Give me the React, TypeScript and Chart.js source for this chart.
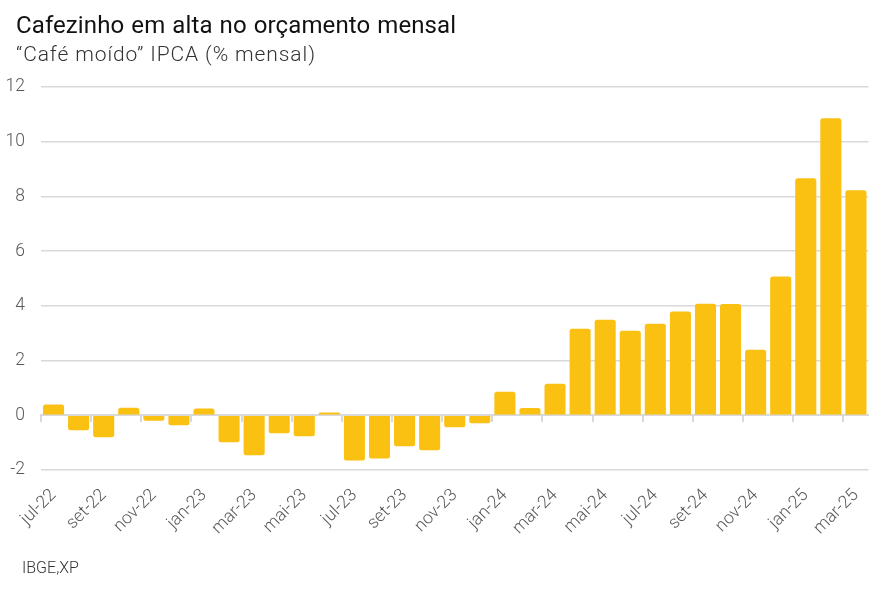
import React, { useEffect, useRef } from 'react';
import { Chart, registerables } from 'chart.js';

Chart.register(...registerables);

const categories: string[] = [
  'jul-22', 'ago-22', 'set-22', 'out-22', 'nov-22', 'dez-22',
  'jan-23', 'fev-23', 'mar-23', 'abr-23', 'mai-23', 'jun-23',
  'jul-23', 'ago-23', 'set-23', 'out-23', 'nov-23', 'dez-23',
  'jan-24', 'fev-24', 'mar-24', 'abr-24', 'mai-24', 'jun-24',
  'jul-24', 'ago-24', 'set-24', 'out-24', 'nov-24', 'dez-24',
  'jan-25', 'fev-25', 'mar-25',
];

const values: number[] = [
  0.39, -0.55, -0.8, 0.28, -0.2, -0.36,
  0.25, -0.99, -1.46, -0.66, -0.77, 0.1,
  -1.65, -1.58, -1.13, -1.28, -0.44, -0.29,
  0.86, 0.27, 1.15, 3.16, 3.49, 3.09,
  3.35, 3.79, 4.08, 4.07, 2.4, 5.07,
  8.66, 10.86, 8.23,
];

const yMin = -2;
const yMax = 12;
const yStep = 2;

const titleText = 'Cafezinho em alta no orçamento mensal';
const subtitleText = '“Café moído” IPCA (% mensal)';
const sourceText = 'IBGE,XP';

const GRID = '#d9d9d9';
const TICK = '#595959';

export default function App() {
  const canvasRef = useRef<HTMLCanvasElement | null>(null);

  useEffect(() => {
    if (!canvasRef.current) return;
    const chart = new Chart(canvasRef.current, {
      type: 'bar',
      data: {
        labels: categories,
        datasets: [
          {
            data: values,
            backgroundColor: '#FAC012',
            borderWidth: 0,
            borderRadius: 2.5,
            categoryPercentage: 1,
            barPercentage: 0.84,
          },
        ],
      },
      options: {
        animation: false,
        responsive: true,
        maintainAspectRatio: false,
        layout: { padding: { top: 87, right: 15, bottom: 52, left: 0 } },
        plugins: {
          legend: { display: false },
          tooltip: { enabled: false },
          title: { display: false },
        },
        scales: {
          x: {
            type: 'category',
            position: 'bottom',
            offset: true,
            grid: { display: false, drawTicks: false },
            border: { display: false },
            ticks: {
              autoSkip: false,
              maxRotation: 45,
              minRotation: 45,
              padding: 15,
              color: TICK,
              font: { family: 'Roboto', size: 17.5, weight: 300 },
              callback: (_v: any, i: number) => (i % 2 === 0 ? categories[i] : ''),
            },
            afterFit: (s: any) => {
              s.height = 70;
            },
          },
          x0: {
            type: 'category',
            axis: 'x',
            position: { y: 0 },
            offset: true,
            labels: categories,
            grid: {
              offset: true,
              drawOnChartArea: false,
              drawTicks: true,
              tickLength: 6,
              lineWidth: 2,
              color: (ctx: any) => (ctx.index % 2 === 0 ? GRID : 'rgba(0,0,0,0)'),
            },
            border: { display: true, color: GRID, width: 2 },
            ticks: { display: false },
          },
          y: {
            min: yMin,
            max: yMax,
            grid: { color: GRID, lineWidth: 1.6, drawTicks: false },
            border: { display: false },
            ticks: {
              stepSize: yStep,
              padding: 16,
              color: TICK,
              font: { family: 'Roboto', size: 17.5, weight: 300 },
            },
            afterFit: (s: any) => {
              s.width = 41;
            },
          },
        },
      },
    });
    return () => chart.destroy();
  }, []);

  return (
    <div
      style={{
        position: 'absolute',
        left: 0,
        top: 0,
        width: 886,
        height: 592,
        background: '#fff',
        fontFamily: 'Roboto, sans-serif',
        overflow: 'hidden',
      }}
    >
      <div style={{ position: 'absolute', left: 0, top: 0, width: 886, height: 592 }}>
        <canvas ref={canvasRef} />
      </div>
      <div
        style={{
          position: 'absolute',
          left: 16,
          top: 11,
          fontSize: 24,
          fontWeight: 400,
          letterSpacing: '0.1px',
          wordSpacing: '1px',
          color: '#111',
          whiteSpace: 'nowrap',
        }}
      >
        {titleText}
      </div>
      <div
        style={{
          position: 'absolute',
          left: 16,
          top: 42,
          fontSize: 21,
          fontWeight: 300,
          letterSpacing: '0.9px',
          color: '#333',
          whiteSpace: 'nowrap',
        }}
      >
        {subtitleText}
      </div>
      <div
        style={{
          position: 'absolute',
          left: 22,
          top: 558,
          fontSize: 16,
          fontWeight: 300,
          color: '#333',
          whiteSpace: 'nowrap',
        }}
      >
        {sourceText}
      </div>
    </div>
  );
}
